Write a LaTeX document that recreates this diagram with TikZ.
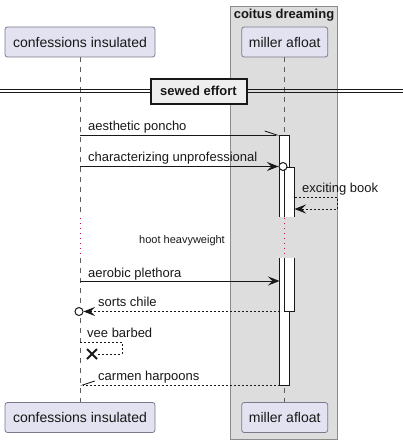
\documentclass[tikz,border=0pt]{standalone}
\usepackage{fontspec}
\setmainfont{Liberation Sans}
\usetikzlibrary{arrows.meta,shapes.misc}
\definecolor{partfill}{HTML}{E2E2F0}
\definecolor{partline}{HTML}{7A7A8C}
\definecolor{grpfill}{HTML}{DDDDDD}
\definecolor{grpline}{HTML}{8C8C8C}
\definecolor{ink}{HTML}{181818}
\definecolor{delaycol}{HTML}{C2185B}
\definecolor{divfill}{HTML}{EEEEEE}
\tikzset{
  participant/.style={draw=partline,fill=partfill,rounded corners=2.5pt,line width=0.8pt,
    minimum height=30pt,inner sep=0pt,font=\fontsize{14}{16}\selectfont,text=ink},
  lifeline/.style={draw=ink!70,line width=0.6pt,dash pattern=on 5pt off 5pt},
  delayline/.style={draw=delaycol,line width=0.8pt,dash pattern=on 1pt off 4pt},
  msgtxt/.style={anchor=base west,inner sep=0pt,font=\fontsize{13}{15}\selectfont,text=ink},
  msg/.style={draw=ink,line width=0.9pt},
  ret/.style={draw=ink,line width=0.9pt,dash pattern=on 2pt off 2pt},
  bar/.style={draw=ink,line width=1pt},
  tipfill/.style={-{Stealth[length=11.5pt,width=9pt,inset=4.5pt,fill=ink]}},
  halfup/.style={-{Straight Barb[left,length=12pt,width=8pt]}},
  ring/.style={circle,draw=ink,fill=white,line width=1pt,minimum size=8pt,inner sep=0pt},
}
\begin{document}
\begin{tikzpicture}[x=1pt,y=-1pt]
\path[use as bounding box] (0,0) rectangle (403,444);
% group box
\draw[draw=grpline,fill=grpfill,line width=0.8pt] (230.5,6.5) rectangle (337.5,439.5);
\node[anchor=base,inner sep=0pt,font=\bfseries\fontsize{13}{15}\selectfont,text=ink] (grptitle) at (284,19) {coitus dreaming};
% lifelines
\draw[lifeline] (80,57) -- (80,217);
\draw[delayline] (80,218) -- (80,258);
\draw[lifeline] (80,258) -- (80,402);
\draw[lifeline] (284.5,57) -- (284.5,217);
\draw[delayline] (284.5,218) -- (284.5,258);
\draw[lifeline] (284.5,258) -- (284.5,402);
% participants
\node[participant,minimum width=150pt] (ciTop) at (80,42) {confessions insulated};
\node[participant,minimum width=86pt] (maTop) at (284.7,42) {miller afloat};
\node[participant,minimum width=150pt] (ciBot) at (80,417.5) {confessions insulated};
\node[participant,minimum width=86pt] (maBot) at (284.7,417.5) {miller afloat};
% divider
\draw[ink,line width=0.9pt] (0,89.5) -- (403,89.5);
\draw[ink,line width=0.9pt] (0,92.5) -- (403,92.5);
\node[draw=ink,fill=divfill,line width=2pt,minimum width=96pt,minimum height=25pt,inner sep=0pt,
  font=\bfseries\fontsize{13}{15}\selectfont,text=ink] (div) at (198.5,91) {sewed effort};
% activation bars
\fill[white] (279.5,135) rectangle (289.5,217);
\fill[white] (279.5,258) rectangle (289.5,385);
\draw[bar] (279.5,217) -- (279.5,135) -- (289.5,135) -- (289.5,217);
\draw[bar] (279.5,258) -- (279.5,385) -- (289.5,385) -- (289.5,258);
\fill[white] (284.5,167) rectangle (294.5,217);
\fill[white] (284.5,258) rectangle (294.5,311);
\draw[bar] (284.5,217) -- (284.5,167) -- (294.5,167) -- (294.5,217);
\draw[bar] (284.5,258) -- (284.5,311) -- (294.5,311) -- (294.5,258);
% coordinates
\coordinate (m1s) at (80,135);
\coordinate (m1e) at (279.5,135);
\coordinate (m2s) at (80,166.5);
\node[ring] (m2c) at (283,166.5) {};
\coordinate (m3s) at (294.5,197);
\coordinate (m3a) at (337,197);
\coordinate (m3b) at (337,209);
\coordinate (m3e) at (294.5,209);
\coordinate (m4s) at (80,281);
\coordinate (m4e) at (279.5,281);
\coordinate (m5s) at (279.5,311.5);
\node[ring] (m5c) at (79,311.5) {};
\coordinate (m6s) at (80,342);
\coordinate (m6a) at (122,342);
\coordinate (m6b) at (122,354);
\node[cross out,draw=ink,line width=2pt,minimum size=8pt,inner sep=0pt] (m6x) at (92,354) {};
\coordinate (m7s) at (279.5,385);
\coordinate (m7e) at (80,385);
% messages
\draw[msg,halfup] (m1s) -- (m1e);
\node[msgtxt] (t1) at (88,130) {aesthetic poncho};
\draw[msg,tipfill] (m2s) -- (m2c.west);
\node[msgtxt] (t2) at (88,161) {characterizing unprofessional};
\draw[ret,tipfill] (m3s) -- (m3a) -- (m3b) -- (m3e);
\node[msgtxt] (t3) at (302,192) {exciting book};
\node[anchor=base west,inner sep=0pt,font=\fontsize{11}{13}\selectfont,text=ink] (t4) at (139,243) {hoot heavyweight};
\draw[msg,tipfill] (m4s) -- (m4e);
\node[msgtxt] (t5) at (88,277) {aerobic plethora};
\draw[ret,tipfill] (m5s) -- (m5c.east);
\node[msgtxt] (t6) at (98,306) {sorts chile};
\draw[ret] (m6s) -- (m6a) -- (m6b) -- (m6x.east);
\node[msgtxt] (t7) at (87,337) {vee barbed};
\draw[ret,-{Straight Barb[right,length=12pt,width=8pt]}] (m7s) -- (m7e);
\node[msgtxt] (t8) at (98,380) {carmen harpoons};
\end{tikzpicture}
\end{document}
